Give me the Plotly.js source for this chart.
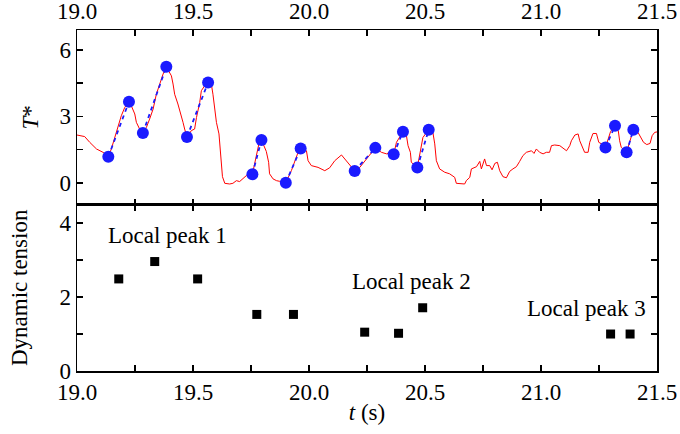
<!DOCTYPE html>
<html>
<head>
<meta charset="utf-8">
<script src="https://cdn.plot.ly/plotly-3.0.1.min.js"></script>
<style>html,body{margin:0;padding:0;background:#fff;}#chart{width:680px;height:434px;}</style>
</head>
<body>
<div id="chart"></div>
<script>
// Red trace: T* versus time
const timeSeries = [19.000,19.033,19.055,19.084,19.112,19.135,19.148,19.162,19.177,19.191,19.206,19.224,19.234,19.249,19.256,19.270,19.284,19.299,19.313,19.328,19.342,19.356,19.371,19.385,19.407,19.414,19.421,19.435,19.446,19.457,19.464,19.474,19.493,19.507,19.515,19.529,19.536,19.550,19.565,19.579,19.586,19.594,19.601,19.612,19.618,19.622,19.627,19.637,19.658,19.672,19.687,19.701,19.716,19.730,19.756,19.766,19.776,19.784,19.795,19.816,19.826,19.830,19.845,19.860,19.874,19.900,19.924,19.938,19.953,19.964,19.989,19.996,20.010,20.039,20.068,20.089,20.111,20.140,20.161,20.183,20.197,20.219,20.247,20.269,20.286,20.312,20.334,20.348,20.365,20.377,20.391,20.405,20.420,20.427,20.437,20.441,20.467,20.484,20.491,20.516,20.534,20.542,20.549,20.563,20.585,20.606,20.628,20.635,20.671,20.678,20.693,20.700,20.722,20.736,20.743,20.757,20.765,20.779,20.789,20.801,20.812,20.822,20.836,20.851,20.865,20.879,20.894,20.908,20.922,20.937,20.959,20.970,20.980,20.994,21.009,21.023,21.037,21.045,21.059,21.081,21.095,21.110,21.124,21.131,21.146,21.160,21.167,21.181,21.188,21.203,21.210,21.224,21.239,21.249,21.261,21.278,21.290,21.300,21.319,21.333,21.339,21.346,21.369,21.382,21.398,21.418,21.430,21.442,21.456,21.470,21.479,21.490,21.500];
const tStar = [2.16,2.09,1.83,1.53,1.38,1.18,1.53,2.05,2.58,3.03,3.41,3.66,3.48,3.11,2.73,2.43,2.25,2.50,2.88,3.33,4.00,4.46,4.91,5.24,4.83,4.46,4.00,3.56,3.18,2.73,2.43,2.07,2.36,2.43,2.95,3.63,4.16,4.38,4.53,4.46,4.00,3.41,2.73,2.21,1.53,0.86,0.28,-0.02,-0.05,-0.02,0.10,0.06,0.18,0.33,0.39,0.86,1.45,1.76,1.94,1.42,0.93,0.41,0.18,0.10,0.07,0.01,0.55,1.00,1.38,1.55,1.45,1.00,0.78,0.70,0.55,0.68,1.00,1.26,1.00,0.70,0.54,0.70,1.08,1.38,1.58,1.38,1.31,1.38,1.29,1.83,2.05,2.31,2.13,1.68,1.38,0.93,0.69,1.60,2.05,2.40,2.28,1.76,1.00,0.63,0.48,0.41,0.25,-0.02,-0.05,0.10,0.25,0.63,0.73,0.97,0.63,1.08,0.78,0.78,0.59,0.88,0.93,0.55,0.28,0.23,0.52,0.63,0.73,0.97,1.23,1.38,1.45,1.33,1.53,1.38,1.31,1.38,1.38,1.68,1.71,1.68,1.58,1.45,1.68,1.90,2.16,2.21,1.90,1.60,1.38,1.38,1.83,2.23,2.23,1.83,1.76,1.60,2.05,2.32,2.58,2.36,1.90,1.60,1.38,1.83,2.40,2.28,2.05,1.83,1.73,1.78,2.13,2.28,2.30];

// Blue dots: local minima / maxima pairs (rise start, rise end)
const extremaT = [19.135,19.224,19.284,19.385,19.474,19.565,19.756,19.795,19.900,19.964,20.197,20.286,20.365,20.405,20.467,20.516,21.278,21.319,21.369,21.398];
const extremaV = [1.18,3.66,2.25,5.24,2.07,4.53,0.39,1.94,0.01,1.55,0.54,1.58,1.29,2.31,0.69,2.40,1.60,2.58,1.38,2.40];

// Black squares: dynamic tension
const tensionT = [19.18,19.335,19.52,19.775,19.933,20.24,20.386,20.49,21.30,21.384];
const tensionV = [2.49,2.96,2.49,1.53,1.53,1.05,1.02,1.71,1.00,1.00];

// Annotations
const peakLabels = ["Local peak 1","Local peak 2","Local peak 3"];
const peakLabelT = [19.39,20.44,21.197];
const peakLabelV = [3.67,2.41,1.69];

// Tick labels
const xTickVals = [19,19.25,19.5,19.75,20,20.25,20.5,20.75,21,21.25,21.5];
const xTickText = ["19.0","","19.5","","20.0","","20.5","","21.0","","21.5"];
const yTopVals = [0,1.5,3,4.5,6];
const yTopText = ["0","","3","","6"];
const yBotVals = [0,1,2,3,4];
const yBotText = ["0","","2","","4"];

// Build dashed rise segments
const segX = [], segY = [];
for (let i = 0; i + 1 < extremaT.length; i += 2) {
  segX.push(extremaT[i], extremaT[i+1], null);
  segY.push(extremaV[i], extremaV[i+1], null);
}

const FONT = '"Liberation Serif"';
const FS = 23;

const traces = [
  {x: timeSeries, y: tStar, xaxis: 'x2', yaxis: 'y2', mode: 'lines',
   line: {color: '#ff0000', width: 1}, hoverinfo: 'skip'},
  {x: segX, y: segY, xaxis: 'x2', yaxis: 'y2', mode: 'lines',
   line: {color: '#1a1aff', width: 1.8, dash: '4px,4px'}, connectgaps: false},
  {x: extremaT, y: extremaV, xaxis: 'x2', yaxis: 'y2', mode: 'markers',
   marker: {color: '#1a1aff', size: 12}},
  {x: tensionT, y: tensionV, xaxis: 'x', yaxis: 'y', mode: 'markers',
   marker: {color: '#000', size: 9, symbol: 'square'}}
];

const axisCommon = {
  showline: true, linecolor: '#000', linewidth: 1.5, mirror: 'allticks',
  ticks: 'inside', ticklen: 6, tickwidth: 1.5, tickcolor: '#000',
  showgrid: false, zeroline: false, tickmode: 'array',
  tickfont: {family: FONT, size: FS, color: '#000'}
};

const layout = {
  width: 680, height: 434,
  margin: {l: 77, r: 23, t: 30, b: 63},
  paper_bgcolor: '#fff', plot_bgcolor: '#fff',
  showlegend: false,
  font: {family: FONT, size: FS, color: '#000'},
  xaxis: Object.assign({}, axisCommon, {
    range: [19, 21.5], anchor: 'y', tickvals: xTickVals, ticktext: xTickText,
    title: {text: '<i>t</i> (s)', font: {family: FONT, size: FS}, standoff: 0}
  }),
  xaxis2: Object.assign({}, axisCommon, {
    range: [19, 21.5], anchor: 'y2', side: 'top', matches: 'x',
    tickvals: xTickVals, ticktext: xTickText
  }),
  yaxis: Object.assign({}, axisCommon, {
    domain: [0, 0.488], range: [0, 4.5], anchor: 'x',
    tickvals: yBotVals, ticktext: yBotText,
    title: {text: 'Dynamic tension', font: {family: FONT, size: FS}, standoff: 25}
  }),
  yaxis2: Object.assign({}, axisCommon, {
    domain: [0.488, 1], range: [-0.98, 6.9], anchor: 'x2',
    tickvals: yTopVals, ticktext: yTopText,
    title: {text: '<i>T</i>*', font: {family: FONT, size: FS}, standoff: 14}
  }),
  annotations: peakLabels.map((txt, i) => ({
    text: txt, x: peakLabelT[i], y: peakLabelV[i], xref: 'x', yref: 'y',
    showarrow: false, font: {family: FONT, size: FS, color: '#000'}
  }))
};

Plotly.newPlot('chart', traces, layout, {displayModeBar: false, staticPlot: true});
</script>
</body>
</html>
